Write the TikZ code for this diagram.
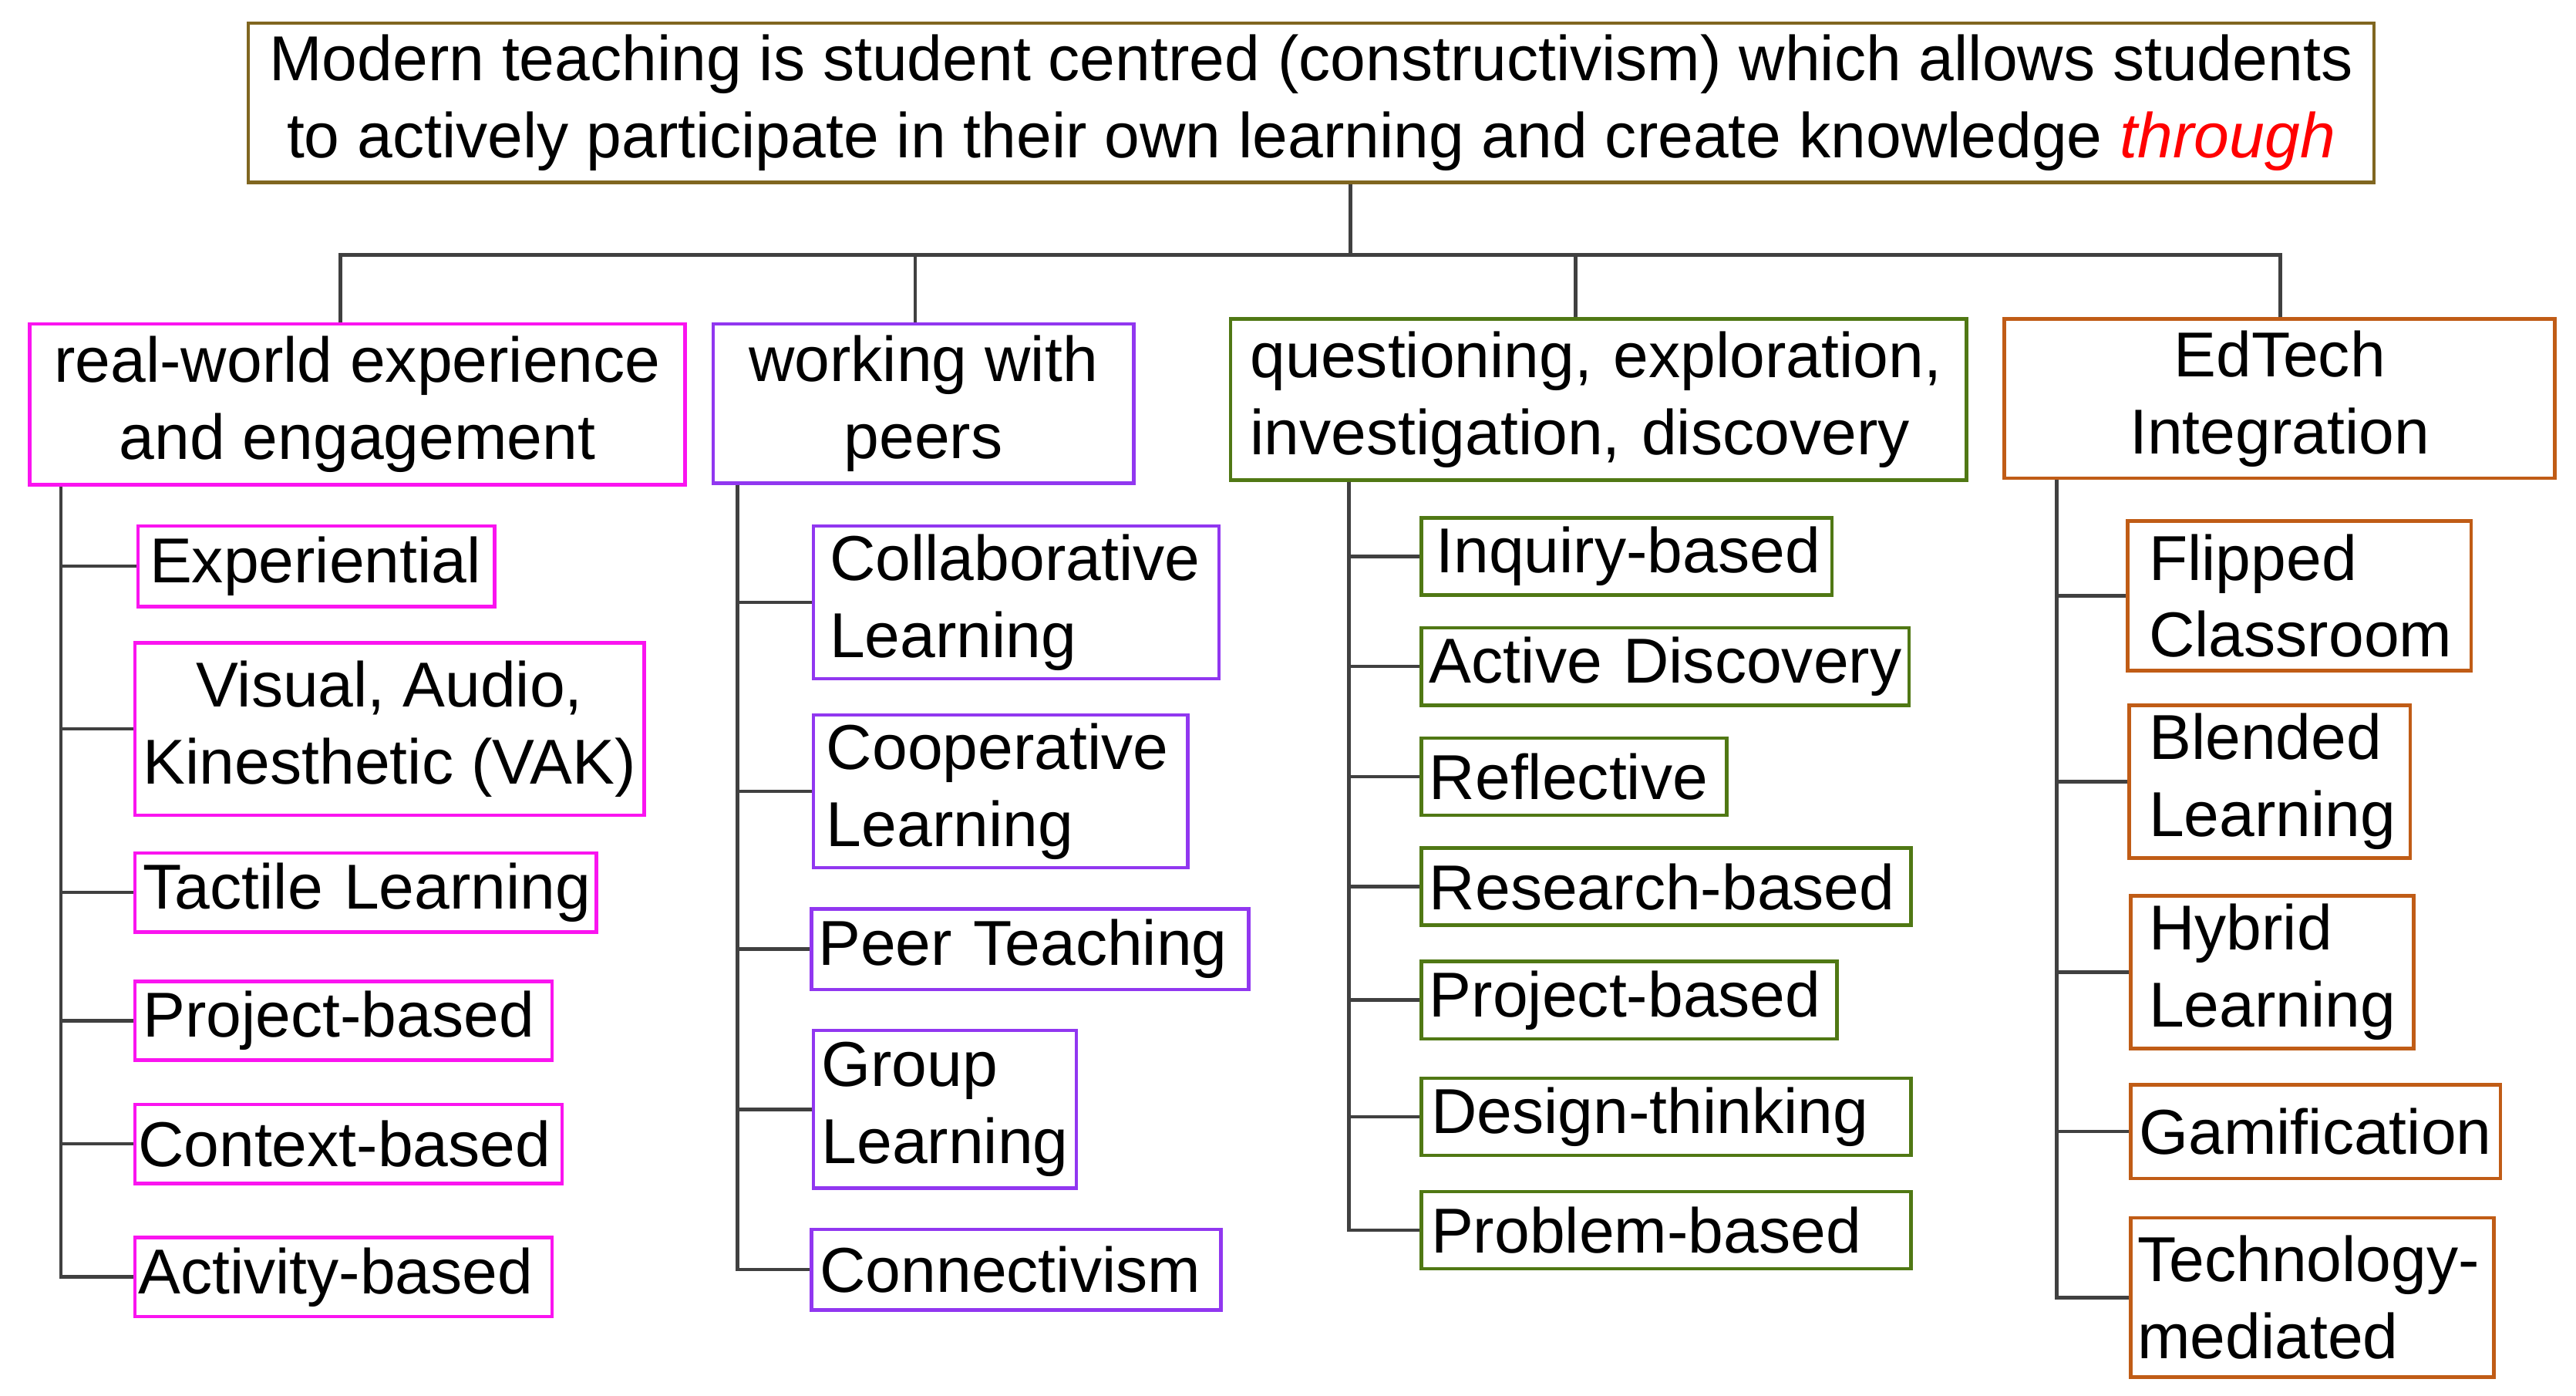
\documentclass[tikz,border=0pt]{standalone}
\usepackage{fontspec}
\setmainfont{Liberation Sans}
\usetikzlibrary{calc}
\hyphenpenalty=10000
\exhyphenpenalty=10000
\definecolor{topc}{RGB}{128,102,32}
\definecolor{magc}{RGB}{250,20,240}
\definecolor{purc}{RGB}{145,55,240}
\definecolor{grnc}{RGB}{80,120,20}
\definecolor{orgc}{RGB}{192,92,22}
\definecolor{linec}{RGB}{64,64,64}
\def\u{0.021307cm}
\newcommand\oneline[1]{\mbox{#1}}
\tikzset{
  bx/.style n args={4}{draw=#1, line width=1.3pt, fill=white, anchor=north west,
    minimum width=#2*\u, minimum height=#3*\u, text width=#2*\u-2*#4*\u,
    inner xsep=#4*\u, inner ysep=0pt, align=left,
    font=\fontsize{23.4pt}{28.4pt}\selectfont},
  bxc/.style n args={3}{draw=#1, line width=1.3pt, fill=white, anchor=north west,
    minimum width=#2*\u, minimum height=#3*\u,
    inner xsep=0pt, inner ysep=0pt, align=center,
    font=\fontsize{23.4pt}{28.4pt}\selectfont},
  conn/.style={draw=linec, line width=1.3pt}
}
\begin{document}
\begin{tikzpicture}[x=0.021307cm,y=-0.021307cm]
\useasboundingbox (0,0) rectangle (1568,849);
% top
\node[bxc={topc}{1294}{97}] (top) at (150,13)
  {Modern teaching is student centred (constructivism) which allows students\\
   to actively participate in their own learning and create knowledge \textcolor{red}{\textit{through}}};
% categories
\node[bxc={magc}{399}{98}] (c1) at (17,196) {real-world experience\\and engagement};
\node[bxc={purc}{256}{97}] (c2) at (433,196) {working with\\peers};
\node[bx={grnc}{448}{98}{12}] (c3) at (748,193) {\oneline{questioning, exploration,}\\\oneline{investigation, discovery}};
\node[bxc={orgc}{335}{97}] (c4) at (1219,193) {EdTech\\Integration};
% column 1
\node[bx={magc}{217}{49}{7}] (k11) at (83,319) {\oneline{Experiential}};
\node[bxc={magc}{310}{105}] (k12) at (81,390) {Visual, Audio,\\Kinesthetic (VAK)};
\node[bx={magc}{281}{48}{5}] (k13) at (81,518) {\oneline{Tactile Learning}};
\node[bx={magc}{254}{48}{5}] (k14) at (81,596) {\oneline{Project-based}};
\node[bx={magc}{260}{48}{2}] (k15) at (81,671) {\oneline{Context-based}};
\node[bx={magc}{254}{48}{2}] (k16) at (81,752) {\oneline{Activity-based}};
% column 2
\node[bx={purc}{247}{93}{10}] (k21) at (494,319) {\oneline{Collaborative}\\\oneline{Learning}};
\node[bx={purc}{228}{93}{8}] (k22) at (494,434) {\oneline{Cooperative}\\\oneline{Learning}};
\node[bx={purc}{266}{49}{4}] (k23) at (493,552) {\oneline{Peer Teaching}};
\node[bx={purc}{160}{96}{5}] (k24) at (494,626) {\oneline{Group}\\\oneline{Learning}};
\node[bx={purc}{249}{49}{5}] (k25) at (493,747) {\oneline{Connectivism}};
% column 3
\node[bx={grnc}{250}{47}{9}] (k31) at (864,314) {\oneline{Inquiry-based}};
\node[bx={grnc}{297}{47}{5}] (k32) at (864,381) {\oneline{Active Discovery}};
\node[bx={grnc}{186}{47}{5}] (k33) at (864,448) {\oneline{Reflective}};
\node[bx={grnc}{298}{47}{5}] (k34) at (864,515) {\oneline{Research-based}};
\node[bx={grnc}{253}{47}{5}] (k35) at (864,584) {\oneline{Project-based}};
\node[bx={grnc}{298}{47}{6}] (k36) at (864,655) {\oneline{Design-thinking}};
\node[bx={grnc}{298}{47}{6}] (k37) at (864,724) {\oneline{Problem-based}};
% column 4
\node[bx={orgc}{209}{91}{13}] (k41) at (1294,316) {\oneline{Flipped}\\\oneline{Classroom}};
\node[bx={orgc}{171}{93}{12}] (k42) at (1295,428) {\oneline{Blended}\\\oneline{Learning}};
\node[bx={orgc}{172}{93}{11}] (k43) at (1296,544) {\oneline{Hybrid}\\\oneline{Learning}};
\node[bx={orgc}{225}{57}{5}] (k44) at (1296,659) {\oneline{Gamification}};
\node[bx={orgc}{221}{97}{4}] (k45) at (1296,740) {\oneline{Technology-}\\\oneline{mediated}};
% connectors: top to categories
\coordinate (bus) at ($(top.south)+(24,43)$);
\draw[conn] ($(top.south)+(24,0)$) -- (bus);
\draw[conn] ($(c1.north)+(-10.5,0)$) |- (bus);
\draw[conn] ($(c2.north)+(-5,0)$) |- (bus);
\draw[conn] ($(c3.north)+(-14,0)$) |- (bus);
\draw[conn] ($(c4.north)+(0.5,0)$) |- (bus);
% column trunks
\foreach \k in {k11,k12,k13,k14,k15,k16}
  \draw[conn] ($(c1.south west)+(20,0)$) |- (\k.west);
\foreach \k in {k21,k22,k23,k24,k25}
  \draw[conn] ($(c2.south west)+(16,0)$) |- (\k.west);
\foreach \k in {k31,k32,k33,k34,k35,k36,k37}
  \draw[conn] ($(c3.south west)+(73,0)$) |- (\k.west);
\foreach \k in {k41,k42,k43,k44,k45}
  \draw[conn] ($(c4.south west)+(33,0)$) |- (\k.west);
\end{tikzpicture}
\end{document}
